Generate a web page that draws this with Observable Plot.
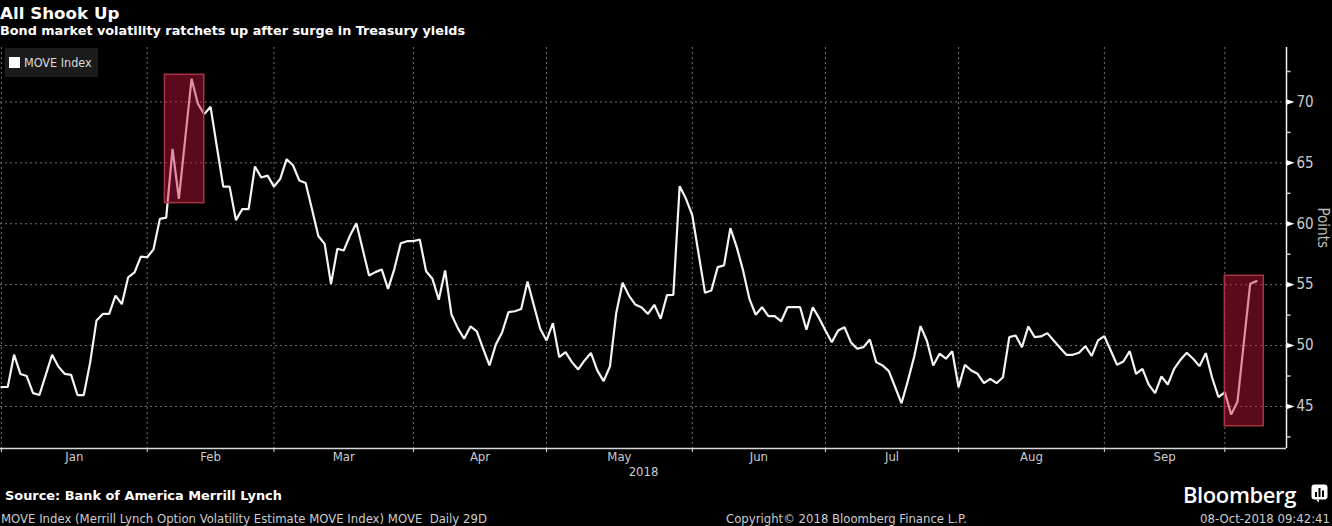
<!DOCTYPE html>
<html>
<head>
<meta charset="utf-8">
<script src="https://cdn.jsdelivr.net/npm/d3@7"></script>
<script src="https://cdn.jsdelivr.net/npm/@observablehq/plot@0.6"></script>
<style>
  html, body { margin: 0; padding: 0; background: #000; }
  #wrap { position: relative; width: 1332px; height: 526px; overflow: hidden; background: #000; color: #ccc;
          font-family: "Liberation Sans Narrow", "DejaVu Sans Condensed", "Roboto Condensed", sans-serif; }
  .abs { position: absolute; white-space: nowrap; }
  #title { left: 0; top: 3px; font: bold 16.7px "DejaVu Sans", sans-serif; color: #fff; }
  #subtitle { left: 0; top: 23px; font: bold 12.8px "DejaVu Sans", sans-serif; color: #fff; }
  #chart { position: absolute; left: 0; top: 44px; }
  #legend { left: 5px; top: 48px; width: 93px; height: 29px; background: #1b1b1b; }
  #legend .sw { position: absolute; left: 4px; top: 9px; width: 11px; height: 11px; background: #fff; }
  #legend .lb { position: absolute; left: 19px; top: 7px; font-size: 12.5px; color: #ddd; font-stretch: condensed; }
  #source { left: 5px; top: 488px; font: bold 12.9px "DejaVu Sans", sans-serif; color: #fff; }
  #desc { left: 1px; top: 511px; font-size: 13px; color: #ccc; font-stretch: condensed; }
  #copy { left: 726px; top: 511px; font-size: 13px; color: #ccc; font-stretch: condensed; }
  #stamp { right: 2px; top: 511px; font-size: 13px; color: #ccc; font-stretch: condensed; }
  #brand { left: 1183px; top: 479px; font: 600 22px "Open Sans", "Roboto", sans-serif; color: #fff; letter-spacing: -0.4px; }
  #icon { left: 1311px; top: 484px; }
</style>
</head>
<body>
<div id="wrap">
  <div id="title" class="abs">All Shook Up</div>
  <div id="subtitle" class="abs">Bond market volatility ratchets up after surge in Treasury yields</div>
  <div id="chart"></div>
  <div id="legend" class="abs"><div class="sw"></div><div class="lb">MOVE Index</div></div>
  <div id="source" class="abs">Source: Bank of America Merrill Lynch</div>
  <div id="desc" class="abs">MOVE Index (Merrill Lynch Option Volatility Estimate MOVE Index) MOVE&nbsp; Daily 29D</div>
  <div id="copy" class="abs">Copyright© 2018 Bloomberg Finance L.P.</div>
  <div id="stamp" class="abs">08-Oct-2018 09:42:41</div>
  <div id="brand" class="abs">Bloomberg</div>
  <svg id="icon" class="abs" width="18" height="19" viewBox="0 0 18 19">
    <rect x="0.5" y="0.5" width="16" height="15" rx="3" fill="#fff"/>
    <path d="M5 15.5 L8 18.5 L8 15.5 Z" fill="#fff"/>
    <rect x="4" y="8" width="2" height="5" fill="#000"/>
    <rect x="7.5" y="4" width="2" height="9" fill="#000"/>
    <rect x="11" y="6.5" width="2" height="6.5" fill="#000"/>
  </svg>
</div>
<script>
// MOVE Index, one value per trading day (Jan 2018 .. 8 Oct 2018)
const moveValues = [
  46.6, 46.6, 49.25, 47.67, 47.5, 46.1, 45.94, 47.6, 49.25, 48.27,
  47.67, 47.6, 45.94, 45.94, 48.6, 52.05, 52.6, 52.6, 54.1, 53.4,
  55.6, 56.0, 57.3, 57.25, 57.9, 60.4, 60.5, 66.15, 62.05, 67.0,
  71.9, 69.85, 69.0, 69.6, 66.3, 63.05, 63.05, 60.3, 61.2, 61.2,
  64.7, 63.8, 63.95, 63.05, 63.7, 65.3, 64.8, 63.55, 63.35, 61.2,
  59.0, 58.35, 55.05, 57.95, 57.8, 59.04, 60.05, 57.9, 55.75, 56.03,
  56.25, 54.66, 56.3, 58.4, 58.57, 58.57, 58.71, 56.1, 55.48, 53.76,
  56.17, 52.55, 51.43, 50.56, 51.57, 51.16, 49.74, 48.37, 50.09, 51.1,
  52.74, 52.82, 53.0, 55.26, 53.3, 51.38, 50.42, 51.84, 49.05, 49.46,
  48.64, 48.04, 48.78, 49.4, 47.96, 47.08, 48.28, 52.7, 55.15, 54.1,
  53.37, 53.12, 52.6, 53.35, 52.2, 54.14, 54.15, 63.09, 62.05, 60.68,
  57.5, 54.33, 54.52, 56.44, 56.58, 59.64, 58.08, 56.17, 53.84, 52.53,
  53.15, 52.41, 52.41, 51.98, 53.15, 53.15, 53.15, 51.3, 53.15, 52.25,
  51.24, 50.28, 51.24, 51.51, 50.28, 49.74, 49.87, 50.5, 48.64, 48.37,
  47.9, 46.58, 45.26, 47.1, 49.1, 51.6, 50.4, 48.37, 49.33, 48.92,
  49.54, 46.58, 48.42, 47.95, 47.68, 46.91, 47.27, 46.91, 47.4, 50.69,
  50.83, 49.87, 51.57, 50.69, 50.75, 51.02, 50.42, 49.82, 49.24, 49.24,
  49.41, 49.95, 49.16, 50.42, 50.77, 49.6, 48.42, 48.69, 49.54, 47.68,
  48.09, 46.8, 46.09, 47.46, 46.8, 48.09, 48.83, 49.41, 48.92, 48.31,
  49.38, 47.36, 45.77, 46.18, 44.33, 45.4, 50.25, 55.07, 55.29
];
// trading-day index at which each month starts (Jan .. Oct)
const monthStarts = [0, 23, 43, 65, 86, 109, 130, 151, 174, 193];
const monthNames = ["Jan", "Feb", "Mar", "Apr", "May", "Jun", "Jul", "Aug", "Sep"];
const yearLabel = ["2018"];
const yTicks = [45, 50, 55, 60, 65, 70];
const yMinorTicks = [42.5, 47.5, 52.5, 57.5, 62.5, 67.5, 72.5];
// highlighted spans (trading-day index, points)
const highlightStart = [25.8, 193.0];
const highlightEnd = [32.0, 199.15];
const highlightLow = [61.69, 43.38];
const highlightHigh = [72.23, 55.73];
const xDomain = [-0.14, 202.73];
const yDomain = [41.55, 74.47];

const series = moveValues.map((v, i) => ({day: i, value: v}));
const months = monthNames.map((name, i) => ({name, mid: (monthStarts[i] + monthStarts[i + 1]) / 2}));
const highlights = highlightStart.map((s, i) => ({s, e: highlightEnd[i], lo: highlightLow[i], hi: highlightHigh[i]}));
const xMax = xDomain[1];
const yMin = yDomain[0];

const arrow = {draw(ctx) { ctx.moveTo(0, -2.8); ctx.lineTo(8, 0); ctx.lineTo(0, 2.8); ctx.closePath(); }};
const dash = {draw(ctx) { ctx.moveTo(0, 0); ctx.lineTo(4, 0); }};
const font = '"Liberation Sans Narrow", "DejaVu Sans Condensed", "Roboto Condensed", sans-serif';

const chart = Plot.plot({
  width: 1332,
  height: 440,
  marginTop: 3,
  marginBottom: 36,
  marginLeft: 0,
  marginRight: 46,
  x: {domain: xDomain, axis: null},
  y: {domain: yDomain, axis: null},
  style: {background: "#000", color: "#ccc", fontFamily: font, fontStretch: "condensed", overflow: "visible"},
  marks: [
    Plot.ruleY(yTicks, {stroke: "#707070", strokeDasharray: "2,3", strokeWidth: 1}),
    Plot.ruleX(monthStarts, {stroke: "#707070", strokeDasharray: "2,3", strokeWidth: 1}),
    Plot.line(series, {x: "day", y: "value", stroke: "#f4f4f4", strokeWidth: 2.2, strokeLinejoin: "miter"}),
    Plot.rect(highlights, {x1: "s", x2: "e", y1: "lo", y2: "hi", fill: "#c8163c", fillOpacity: 0.45, stroke: "#a83444", strokeWidth: 1.5}),
    Plot.ruleY([yMin], {stroke: "#d8d8d8", strokeWidth: 1.5}),
    Plot.ruleX([xMax], {stroke: "#f0f0f0", strokeWidth: 1.5}),
    Plot.axisX({ticks: monthStarts, tickSize: 4, tickFormat: () => "", stroke: "#e0e0e0"}),
    Plot.text(months, {x: "mid", text: "name", frameAnchor: "bottom", dy: 12, fill: "#ccc", fontSize: 13}),
    Plot.text(yearLabel, {frameAnchor: "bottom", dy: 27, fill: "#ccc", fontSize: 13}),
    Plot.dot(yTicks, {x: () => xMax, y: d => d, symbol: arrow, fill: "#fff", stroke: null, r: 3}),
    Plot.dot(yMinorTicks, {x: () => xMax, y: d => d, symbol: dash, stroke: "#ccc", fill: "none", strokeWidth: 1.5, r: 3}),
    Plot.text(yTicks, {x: () => xMax, y: d => d, text: d => String(d), dx: 10, textAnchor: "start", fill: "#ccc", fontSize: 15}),
    Plot.text(["Points"], {frameAnchor: "right", dx: 36, rotate: 90, fill: "#bbb", fontSize: 15})
  ]
});
document.getElementById("chart").appendChild(chart);
</script>
</body>
</html>
